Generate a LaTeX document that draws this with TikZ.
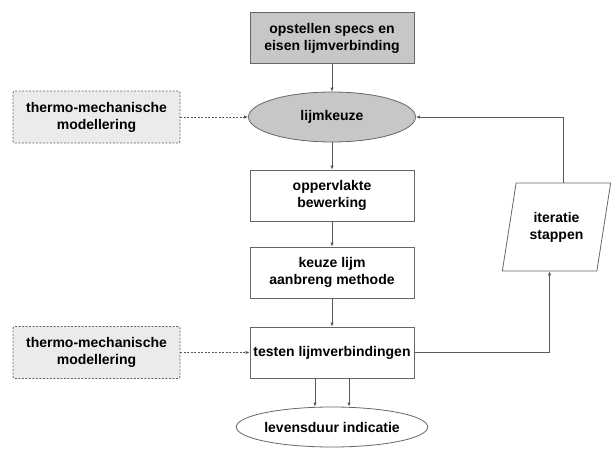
\documentclass[tikz,border=0pt]{standalone}
\usepackage{fontspec}
\setmainfont{Liberation Sans}
\usetikzlibrary{shapes.geometric,arrows.meta}

\tikzstyle{process}=[rectangle,draw=black!60,line width=0.8pt,fill=white,minimum width=164pt,minimum height=51pt,inner sep=2pt,align=center]
\tikzstyle{start}=[process,fill=black!22]
\tikzstyle{choice}=[ellipse,draw=black!60,line width=0.8pt,fill=black!22,minimum width=167pt,minimum height=50pt,inner sep=0pt,align=center]
\tikzstyle{result}=[choice,fill=white,minimum width=163pt,minimum height=40pt]
\tikzstyle{model}=[rectangle,draw=black!60,line width=0.8pt,dash pattern=on 2pt off 1.5pt,rounded corners=2pt,fill=black!8,minimum width=167pt,minimum height=52pt,align=center]
\tikzstyle{iteration}=[trapezium,trapezium left angle=73,trapezium right angle=107,trapezium stretches=true,draw=black!60,line width=0.8pt,fill=white,minimum width=109pt,minimum height=88pt,inner sep=0pt,align=center]
\tikzstyle{edge}=[draw,line width=0.8pt,black!65,->]
\tikzstyle{model edge}=[edge,dash pattern=on 2pt off 1.5pt]

\begin{document}
\begin{tikzpicture}[x=1pt,y=-1pt,>={Latex[length=4pt,width=3.5pt]},font=\fontsize{14}{17}\selectfont\bfseries]
	\useasboundingbox (0,0) rectangle (611,450);
			\node[start] (specs) at (332,38) {opstellen specs en\\eisen lijmverbinding};
			\node[choice] (lijmkeuze) at (332,117) {lijmkeuze};
			\node[model] (model1) at (96.5,117) {thermo-mechanische\\modellering};
			\node[process] (opp) at (332,195.5) {oppervlakte\\bewerking};
			\node[process] (aanbreng) at (332,272.5) {keuze lijm\\aanbreng methode};
			\node[process] (testen) at (332,352.5) {testen lijmverbindingen};
			\node[model] (model2) at (96.5,352.5) {thermo-mechanische\\modellering};
			\node[result] (levensduur) at (332,427) {levensduur indicatie};
			\node[iteration] (iteratie) at (556.5,227) {iteratie\\stappen};
			% Main flow top to bottom
			\foreach \source/ \dest in {specs/lijmkeuze, lijmkeuze/opp, opp/aanbreng, aanbreng/testen}
				\path[edge] (\source) -- (\dest);
			% Modelling input
			\path[model edge] (model1) -- (lijmkeuze);
			\path[model edge] (model2) -- (testen);
			% Iteration loop back to lijmkeuze
			\path[edge] (testen.east) -| (iteratie.bottom side);
			\path[edge] (iteratie.top side) |- (lijmkeuze.east);
			\foreach \dx in {-17,17}
				\path[edge] ([xshift=\dx]testen.south) -- ([xshift=\dx]levensduur.north);
\end{tikzpicture}
\end{document}
